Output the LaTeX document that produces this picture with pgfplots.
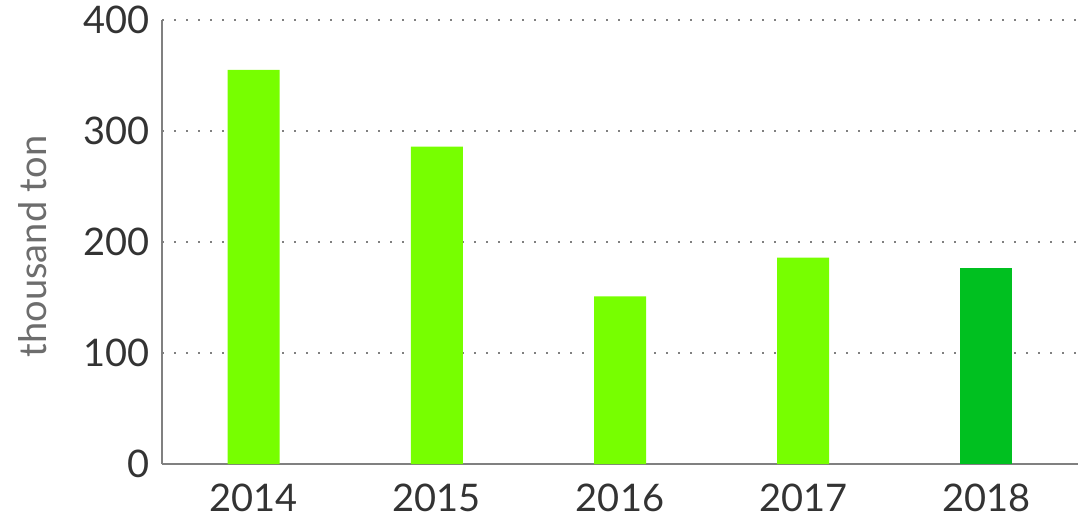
\documentclass[border=0pt]{standalone}
\usepackage{pgfplots}
\pgfplotsset{compat=1.18}
\usepackage{fontspec}
\setmainfont{Lato}
\definecolor{lightgreen}{RGB}{119,255,0}
\definecolor{darkgreen}{RGB}{0,192,32}
\definecolor{axisgray}{RGB}{128,128,128}
\definecolor{textgray}{RGB}{51,51,51}
\begin{document}
\begin{tikzpicture}
\begin{axis}[
  scale only axis,
  width=458pt, height=222pt,
  xmin=-0.5, xmax=4.5,
  ymin=0, ymax=400,
  axis lines=left,
  axis line style={-, axisgray, line width=1pt},
  ytick={0,100,200,300,400},
  xtick={0,1,2,3,4},
  xticklabels={2014,2015,2016,2017,2018},
  major tick length=0pt,
  ymajorgrids=true,
  grid style={axisgray, line width=0.8pt, dash pattern=on 0.8pt off 5.2pt},
  tick label style={font=\fontsize{19}{22}\selectfont, text=textgray},
  xticklabel style={yshift=-6.5pt},
  yticklabel style={xshift=-2.5pt},
  /pgf/number format/assume math mode=true,
  ylabel={thousand ton},
  ylabel style={font=\fontsize{19}{22}\selectfont, text=axisgray!85!black, at={(axis description cs:-0.141,0.49)}, anchor=center},
  ybar, bar width=26pt, bar shift=0pt,
  clip=false,
]
\addplot[draw=none, fill=lightgreen] coordinates {(0,355) (1,286) (2,151) (3,186)};
\addplot[draw=none, fill=darkgreen] coordinates {(4,177)};
\end{axis}
\pgfresetboundingbox
\useasboundingbox (current axis.south west) ++(-81pt,-33.5pt) rectangle ([shift={(1pt,10pt)}]current axis.north east);
\end{tikzpicture}
\end{document}
